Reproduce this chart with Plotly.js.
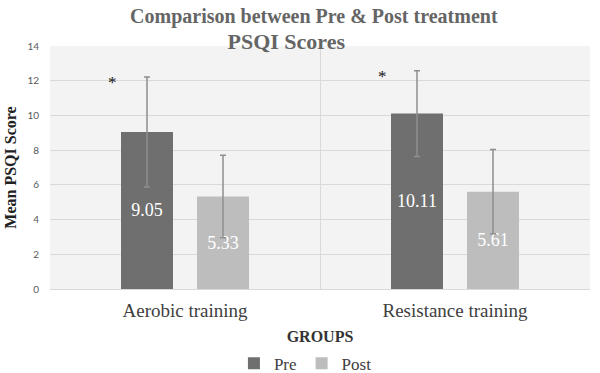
<!DOCTYPE html>
<html>
<head>
<meta charset="utf-8">
<script src="https://cdn.plot.ly/plotly-3.0.1.min.js"></script>
<style>html,body{margin:0;padding:0;background:#fff;}#chart{width:600px;height:373px;}</style>
</head>
<body>
<div id="chart"></div>
<script>
// ---- data ----
const groups = ["Aerobic training", "Resistance training"];
const preValues = [9.05, 10.11];
const postValues = [5.33, 5.61];
const preErrors = [3.17, 2.47];
const postErrors = [2.38, 2.42];
const significant = [true, true];
const yTicks = [0, 2, 4, 6, 8, 10, 12, 14];

const serif = "Liberation Serif, Times New Roman, serif";
const labelFont = {family: serif, size: 18, color: "#ffffff"};

const traces = [
  {
    type: "bar", name: "Pre", x: groups, y: preValues,
    marker: {color: "#6f6f6f"},
    text: preValues.map(v => v.toFixed(2)),
    textposition: "inside", insidetextanchor: "middle",
    textfont: labelFont, hoverinfo: "skip",
    error_y: {type: "data", array: preErrors, visible: true, color: "#8e8e8e", thickness: 1.5, width: 3}
  },
  {
    type: "bar", name: "Post", x: groups, y: postValues,
    marker: {color: "#bdbdbd"},
    text: postValues.map(v => v.toFixed(2)),
    textposition: "inside", insidetextanchor: "middle",
    textfont: labelFont, hoverinfo: "skip",
    error_y: {type: "data", array: postErrors, visible: true, color: "#8e8e8e", thickness: 1.5, width: 3}
  }
];

const annotations = groups.map((g, i) => significant[i] ? {
  x: i - 0.27, y: preValues[i] + preErrors[i], xref: "x", yref: "y",
  text: "*", showarrow: false, yanchor: "middle", yshift: -6,
  font: {family: serif, size: 17, color: "#111"}
} : null).filter(Boolean);

const layout = {
  width: 600, height: 373,
  margin: {l: 50, r: 10, t: 46, b: 84, autoexpand: false},
  paper_bgcolor: "#ffffff",
  plot_bgcolor: "#f3f3f3",
  title: {
    text: "Comparison between Pre &amp; Post treatment<br><span style=\"font-size:22px\">PSQI Scores</span>" + "\u00a0".repeat(11) + "\u200b",
    font: {family: serif, size: 20, color: "#656565", weight: "bold"},
    x: 0.523, xref: "container", xanchor: "center",
    y: 0.939, yref: "container", yanchor: "top"
  },
  barmode: "group",
  bargap: 0.437,
  bargroupgap: 0.316,
  xaxis: {
    type: "category",
    tickson: "boundaries",
    showgrid: true, gridcolor: "#d9d9d9", gridwidth: 1,
    ticks: "", showline: false, zeroline: false,
    tickfont: {family: serif, size: 19, color: "#404040"},
    ticklabelstandoff: 8,
    automargin: false,
    title: {text: "GROUPS", font: {family: serif, size: 16, color: "#333", weight: "bold"}, standoff: 10}
  },
  yaxis: {
    range: [0, 14],
    tickvals: yTicks,
    ticktext: yTicks.map(String),
    showgrid: true, gridcolor: "#d9d9d9", gridwidth: 1,
    zeroline: true, zerolinecolor: "#d9d9d9", zerolinewidth: 1,
    showline: false, ticks: "",
    automargin: false,
    tickfont: {family: "Lato, Liberation Sans, sans-serif", size: 10, color: "#595959"},
    ticklabelstandoff: 10,
    title: {text: "Mean PSQI Score", font: {family: serif, size: 16, color: "#222", weight: "bold"}, standoff: 6}
  },
  showlegend: true,
  legend: {
    orientation: "h",
    x: 0.473, xanchor: "center",
    y: -0.307, yanchor: "middle",
    font: {family: serif, size: 17, color: "#404040"},
    itemwidth: 30,
    bgcolor: "rgba(0,0,0,0)"
  },
  annotations: annotations
};

Plotly.newPlot("chart", traces, layout, {staticPlot: true, displayModeBar: false});
</script>
</body>
</html>
